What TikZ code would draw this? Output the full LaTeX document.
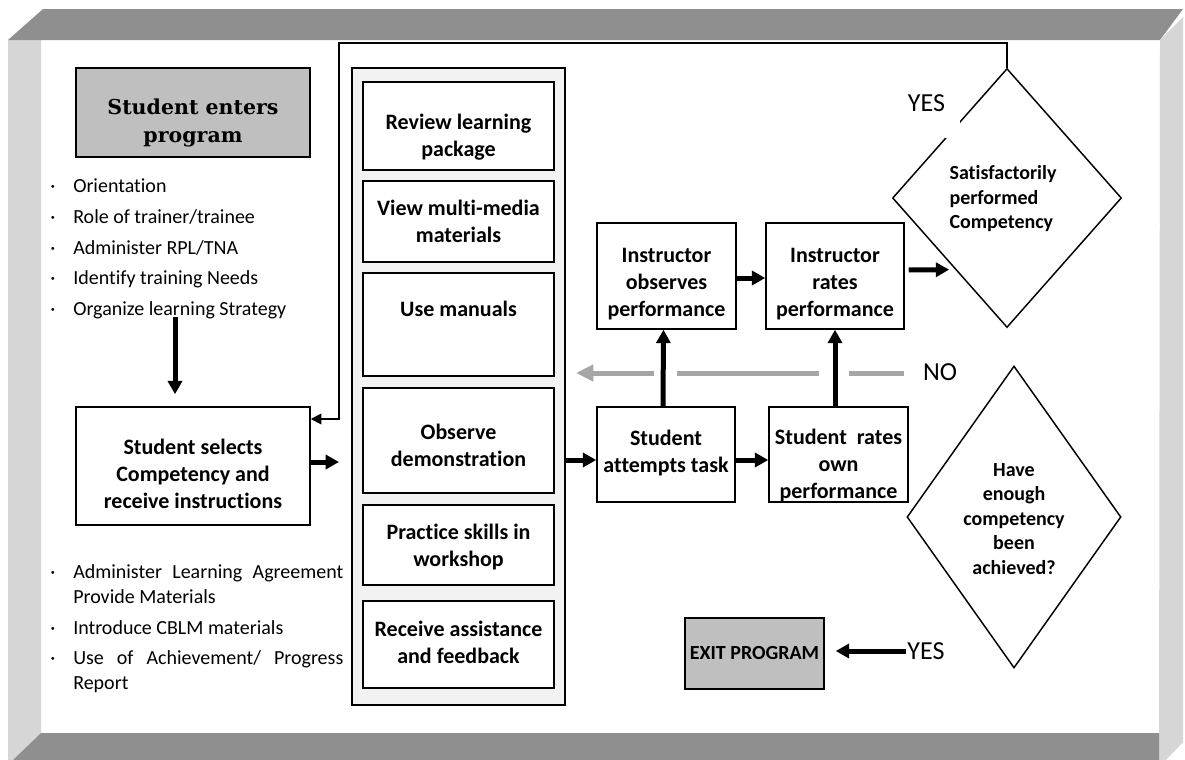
\documentclass[tikz,border=0pt]{standalone}
\usepackage{fontspec}
\setmainfont{Carlito}[Ligatures={NoCommon}]
\newfontfamily\bookfont{DejaVu Serif}
\usetikzlibrary{arrows.meta,calc,shapes.geometric}
\definecolor{darkbev}{HTML}{8F8F8F}
\definecolor{lightbev}{HTML}{D6D6D6}
\definecolor{boxgray}{HTML}{BFBFBF}
\definecolor{colfill}{HTML}{F2F2F2}
\definecolor{nogray}{HTML}{A6A6A6}
\begin{document}
\begin{tikzpicture}[x=0.75pt,y=-0.75pt,
  sz/.style 2 args={minimum width=#1*0.75pt, minimum height=#2*0.75pt},
  box/.style={draw=black, line width=1.1pt, fill=white, inner sep=0pt},
  btxt/.style={align=center, inner sep=0pt, font=\fontsize{16.5}{20.25}\selectfont\bfseries},
  cbox/.style={box, minimum width=191*0.75pt},
  bul/.style={anchor=base west, inner sep=0pt, font=\fontsize{15}{18.75}\selectfont},
  dotn/.style={anchor=base, inner sep=0pt, font=\fontsize{15}{18.75}\selectfont},
  dtext/.style={inner sep=0pt, font=\fontsize{15}{18.4}\selectfont\bfseries},
  yesno/.style={inner sep=0pt, font=\fontsize{19.5}{22}\selectfont},
  thickarrow/.style={line width=3.75pt, -{Triangle[length=10pt,width=10.5pt]}},
  thinarrow/.style={line width=1.3pt, -{Triangle[length=8pt,width=8pt]}},
  noline/.style={draw=nogray, line width=3.75pt},
]
\useasboundingbox (0,0) rectangle (1185,760);
\fill[white] (0,0) rectangle (1185,760);
% bevel frame
\fill[lightbev] (8,40) -- (41,40) -- (41,733) -- (13,760) -- (8,760) -- cycle;
\fill[darkbev] (8,40) -- (43,9) -- (1183,9) -- (1160,40) -- cycle;
\fill[lightbev] (1160,40) -- (1183,17) -- (1183,742) -- (1166,760) -- (1159,760) -- cycle;
\fill[darkbev] (41,733) -- (1159,733) -- (1159,760) -- (13,760) -- cycle;

% left column
\node[box, fill=boxgray, line width=1.5pt, sz={234}{89},
  label={[btxt, yshift=-7.5pt, font=\bookfont\fontsize{15.4}{21}\selectfont\bfseries]center:{Student enters\\program}}] (enters) at (193,112.5) {};
\node[dotn] (b1d) at (53,192) {·}; \node[bul] (b1) at (73,192) {Orientation};
\node[dotn] (b2d) at (53,223) {·}; \node[bul] (b2) at (73,223) {Role of trainer/trainee};
\node[dotn] (b3d) at (53,254) {·}; \node[bul] (b3) at (73,254) {Administer RPL/TNA};
\node[dotn] (b4d) at (53,284) {·}; \node[bul] (b4) at (73,284) {Identify training Needs};
\node[dotn] (b5d) at (53,315) {·}; \node[bul] (b5) at (73,315) {Organize learning Strategy};

\node[box, sz={234}{118},
  label={[btxt, yshift=-6pt]center:{Student selects\\Competency and\\receive instructions}}] (selects) at (193,466) {};

\node[dotn] (b6d) at (53,578.5) {·}; \node[bul] (b6) at (73,578.5) {\makebox[202.5pt][s]{Administer Learning Agreement}};
\node[bul] (b7) at (73,603.5) {Provide Materials};
\node[dotn] (b8d) at (53,634.5) {·}; \node[bul] (b8) at (73,634.5) {Introduce CBLM materials};
\node[dotn] (b9d) at (53,664.5) {·}; \node[bul] (b9) at (73,664.5) {\makebox[202.5pt][s]{Use of Achievement/ Progress}};
\node[bul] (b10) at (73,689.5) {Report};

\coordinate (dstart) at (175,317);
\draw[thickarrow] (dstart) -- ($(dstart |- selects.north)+(0,-12)$);

% middle column
\node[draw=black, line width=1.5pt, fill=colfill, sz={213}{637}] (column) at (458.5,386.5) {};
\node[cbox, minimum height=88*0.75pt,
  label={[btxt, yshift=-8pt]center:{Review learning\\package}}] (c1) at (458.5,126) {};
\node[cbox, minimum height=81*0.75pt,
  label={[btxt]center:{View multi-media\\materials}}] (c2) at (458.5,221.5) {};
\node[cbox, minimum height=103*0.75pt,
  label={[btxt, yshift=12pt]center:{Use manuals}}] (c3) at (458.5,324.5) {};
\node[cbox, minimum height=105*0.75pt,
  label={[btxt, yshift=-3.75pt]center:{Observe\\demonstration}}] (c4) at (458.5,440.5) {};
\node[cbox, minimum height=80*0.75pt,
  label={[btxt, yshift=-1.5pt]center:{Practice skills in\\workshop}}] (c5) at (458.5,545) {};
\node[cbox, minimum height=87*0.75pt,
  label={[btxt, yshift=1.5pt]center:{Receive assistance\\and feedback}}] (c6) at (458.5,644.5) {};

\draw[thickarrow] ($(selects.east)+(0,-4)$) -- ($(column.west |- selects.east)+(-12,-4)$);

% right part
\node[box, sz={139}{106},
  label={[btxt, yshift=-6pt]center:{Instructor\\observes\\performance}}] (obs) at (666.5,276) {};
\node[box, sz={138}{106},
  label={[btxt, yshift=-6pt]center:{Instructor\\rates\\performance}}] (rates) at (835,276) {};
\node[box, sz={138}{95},
  label={[btxt, yshift=0.75pt]center:{Student\\attempts task}}] (attempts) at (666,454.5) {};
\node[box, sz={139}{95},
  label={[btxt, yshift=-8.5pt]center:{Student\ \ rates\\own\\performance}}] (ratesown) at (838.5,454.5) {};

\node[diamond, draw=black, line width=1.1pt, sz={229}{259}, inner sep=0pt] (d1) at (1007,198) {};
\node[dtext, align=left] (d1t) at (1003,199) {Satisfactorily\\performed\\Competency};
\node[diamond, draw=black, line width=1.1pt, sz={214}{302}, inner sep=0pt] (d2) at (1014,517) {};
\node[dtext, align=center] (d2t) at (1014,519) {Have\\enough\\competency\\been\\achieved?};

\node[fill=white, inner sep=0pt, sz={60}{53}, anchor=south east] (yescov) at (960,138) {};
\node[yesno] (yes1) at (926.5,103) {YES};

\node[box, fill=boxgray, sz={139}{71},
  label={[btxt, font=\fontsize{15}{18}\selectfont\bfseries]center:{EXIT PROGRAM}}] (exit) at (754.5,653.5) {};
\node[yesno] (yes2) at (926,651) {YES};
\draw[thickarrow] ($(yes2.west)+(-1,0)$) -- ($(exit.east |- yes2.west)+(11,0)$);

\node[yesno] (no) at (940,372) {NO};
\coordinate (g1) at ($(no.west)+(-19,1)$);
\coordinate (g2) at ($(rates.south |- g1)+(14,0)$);
\coordinate (g3) at ($(rates.south |- g1)+(-16,0)$);
\coordinate (g4) at ($(obs.south |- g1)+(10,0)$);
\coordinate (g5) at ($(obs.south |- g1)+(-13,0)$);
\draw[noline] (g1) -- (g2) (g3) -- (g4);
\draw[noline, -{Triangle[length=13pt,width=12pt]}] (g5) -- ($(column.east |- g5)+(10,0)$);

\draw[thickarrow] ($(column.east |- attempts.west)+(0,5.5)$) -- ($(attempts.west)+(0,5.5)$);
\draw[thickarrow] ($(attempts.east)+(0,5.5)$) -- ($(ratesown.west)+(0,5.5)$);
\draw[thickarrow] ($(attempts.north)+(-3,0)$) -- ($(obs.south)+(-3,0)$);
\draw[thickarrow] (rates.south |- ratesown.north) -- (rates.south);
\draw[thickarrow] ($(obs.east)+(0,2)$) -- ($(rates.west)+(0,2)$);
\draw[thickarrow] ($(rates.east)+(4,-6)$) -- ($(d1.west)!0.55!(d1.south)+(-6,0)$);

\coordinate (topleft) at (339,43);
\draw[thinarrow] (d1.north) |- (topleft) |- ($(selects.east)+(0,-47)$);
\end{tikzpicture}
\end{document}
